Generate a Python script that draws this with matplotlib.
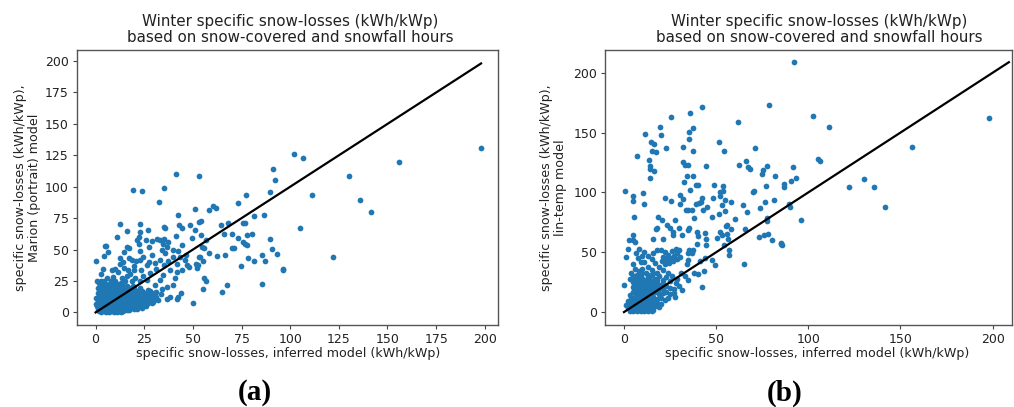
import matplotlib
matplotlib.use("Agg")
import matplotlib.pyplot as plt

TITLE = "Winter specific snow-losses (kWh/kWp)\nbased on snow-covered and snowfall hours"
XLABEL = "specific snow-losses, inferred model (kWh/kWp)"
YLABEL_A = "specific snow-losses (kWh/kWp),\nMarion (portrait) model"
YLABEL_B = "specific snow-losses (kWh/kWp),\nlin-temp model"

# panel (a): outlying points
sparse_a = [
    (198.1, 130.9), (156.1, 120), (102.1, 125.8), (106.4, 123.2), (130, 108.3), (111, 93.5),
    (135.7, 89.3), (141.4, 80), (105, 67.3), (121.9, 44), (96.1, 34.1), (91.3, 114.4),
    (92.2, 105.4), (89.5, 95.6), (77.5, 93.5), (73.2, 87.4), (41.5, 110.2), (53, 108.3),
    (19.4, 97.7), (24, 97), (35.3, 99), (32.4, 88), (51.2, 82.4), (58.3, 81.3), (60.5, 84.5),
    (61.9, 83.4), (42.2, 77.9), (81.6, 77.1), (86.7, 77.9), (77, 71.3), (75.8, 71), (67.9, 71.3),
    (64.6, 69.4), (66, 62.8), (69.9, 62.5), (54, 73.1), (53.3, 71.8), (48.7, 69.4), (51.2, 65.7),
    (54.3, 61.7), (49.4, 59.3), (56.6, 57.5), (42.7, 69.9), (44.2, 67.5), (41.3, 60.9),
    (22.8, 70.5), (12.5, 70.7), (11.1, 60.4), (16.1, 64.4), (22.6, 63.8), (26.7, 65.7), (35, 68.1),
    (35.8, 67), (73.2, 59.6), (75.8, 55.9), (76.8, 54.8), (77.8, 53.8), (78, 61.5), (80.2, 62.5),
    (89.6, 58.8), (90.8, 50.1), (93.2, 46.1), (85.3, 45.8), (86.9, 41.1), (81.6, 40.8), (78.5, 43.4),
    (70.3, 51.4), (71, 50.9), (96.3, 34.2), (74.9, 36.6), (66.5, 45.3), (62.4, 45), (58.1, 46.9),
    (55.4, 41.1), (54.5, 51.7), (55.7, 51.4), (53, 44.2), (53.8, 44.4), (51.4, 38.4), (52.4, 38.1),
    (47.8, 35.8), (51.9, 35), (55.9, 27.5), (56.7, 25.2), (55, 18.3), (67.5, 21.7), (64.8, 15.9),
    (85.5, 22.8), (49.9, 7.2),
]

# panel (a): middle of the cloud
mid_a = [
    (0.3, 41.3), (5.1, 53), (5.6, 52.6), (4.3, 45), (6.3, 48), (3.9, 34.4), (2.6, 30.5), (0.5, 25), (1.7, 23.6),
    (12.5, 43.7), (14.6, 47.7), (16, 52.2), (17.3, 50.9), (8.6, 33.6), (9.9, 34.2), (12.5, 38.4), (14.2, 40.3),
    (17.1, 43.7), (18.5, 41.6), (20.9, 41), (22.8, 48.7), (22.5, 54.8), (21.4, 57.5), (22.3, 60.1), (25.9, 58),
    (27.6, 52.2), (29, 57), (31.4, 58.3), (33.1, 57.5), (35.1, 58.8), (37.4, 56.2), (34.8, 54.3), (36.5, 51.7),
    (33.9, 50), (35.6, 46.9), (39.9, 50), (44.2, 53.5), (42.5, 49), (39.9, 44.2), (43.4, 44.2), (33.1, 41.6),
    (37.4, 41), (35.1, 37.6), (31, 34.2), (41.6, 38.4), (38.2, 33.6), (42, 32.3), (40.8, 27), (44.2, 33.6),
    (34.4, 29.7), (33, 25.7), (36.5, 19.9), (33.9, 19), (38.2, 12.5), (36.8, 11), (42.5, 12.5), (43.7, 15.6),
    (42, 10.3), (39.6, 21.7), (29.6, 8.5), (32, 10.2), (28, 31), (23.6, 33.6), (26.2, 37.6), (22.8, 41.6), (24.5, 44.2),
    (28.8, 45.6), (19.7, 33.6), (16.9, 33.4), (17.7, 30.9), (20.3, 27), (16, 28.9), (18.5, 25.2), (22.8, 25),
    (13.5, 27), (11.3, 32.1), (9.2, 27.8), (6, 27.7), (14.8, 35.5), (20, 37), (24.5, 29), (26.4, 25.8), (30.3, 22),
    (46, 41.5), (47, 38), (30.5, 39.5), (27.5, 40.4), (46.6, 45.8), (28.2, 16.8), (31, 16.2), (33.5, 14.8), (26, 14),
]

# panel (a): dense part near the origin
core_a = [
    (3, 0.2), (5.2, 0.4), (7, 0.1), (9.3, 0.3), (11, 0.5), (13.2, 0.2), (2, 1.2), (4.2, 1), (6.1, 1.3), (8, 0.9),
    (10.2, 1.1), (12, 1.4), (14.3, 1), (16, 1.6), (1.5, 2.2), (3.1, 2), (5, 2.3), (8.2, 1.9), (11, 2.2), (14, 2.1),
    (17.2, 2), (20, 2.4), (1, 3.2), (2.6, 3), (4, 3.3), (6.2, 3.1), (9, 2.9), (12.1, 3.2), (15, 3), (18, 3.3),
    (21.2, 3), (24, 3.4), (0.6, 5.1), (2, 4.9), (3.5, 5.2), (5.1, 5), (7, 4.8), (9.2, 5.1), (11, 5.2), (13, 4.9),
    (15.2, 5.1), (17, 5), (19, 5.2), (21, 4.8), (23.2, 5.1), (26, 5), (0.4, 7.1), (1.5, 6.9), (3, 7.2), (5.2, 7),
    (7, 6.8), (10, 7.1), (12.1, 7), (14, 7.2), (16.2, 6.9), (18, 7), (20, 7.2), (22.1, 6.8), (24, 7), (27, 7.2),
    (29.2, 7.5), (1, 9.1), (2.1, 8.9), (4, 9.2), (6, 9), (8.2, 8.9), (10, 9.1), (13, 9.2), (15.1, 8.8), (17, 9),
    (19.2, 9.1), (21, 9), (23, 9.3), (25.1, 9.5), (27, 9.2), (30, 9.6), (0.2, 11.8), (1.5, 11.1), (3, 10.9), (5.2, 11), (7, 11.2),
    (9, 10.8), (11.1, 11), (13, 11.2), (15, 11), (18.2, 10.9), (20, 11.1), (22, 11.3), (24.1, 11), (26, 11.2), (28, 11.4),
    (31, 12), (2, 13.1), (4, 12.9), (6.1, 13), (8, 13.2), (10, 12.8), (12.2, 13), (14, 13.1), (16, 13), (19, 13.2),
    (21, 13), (23.2, 13.2), (26, 13.1), (29, 13.3), (1.5, 15.2), (3, 14.9), (5.1, 15), (7, 15.2), (9, 14.8), (11.2, 15),
    (13, 15.2), (15, 15), (17.1, 14.9), (20, 15.1), (22, 15.3), (25, 15.2), (27.2, 15.4), (30, 15.8), (2.5, 17.1), (4, 16.9),
    (6, 17), (8.2, 17.2), (10, 16.9), (12, 17), (14.1, 17.2), (16, 17), (18, 17.1), (21, 17.3), (24, 17.4), (27, 17.8),
    (1.5, 19.2), (4, 18.9), (5.5, 19), (7.5, 19.2), (9, 18.9), (11, 19), (13.1, 19.1), (15, 19), (17, 19.2), (20, 19.4),
    (23, 19.6), (2.5, 21.1), (4.5, 21), (6, 20.8), (8, 21.1), (10.1, 21), (12, 21.2), (14, 20.9), (16, 21), (19, 21.3),
    (3, 23.1), (5, 22.9), (7, 23), (9.1, 23.2), (11, 23), (13, 23.1), (3, 25.2), (4.5, 25), (8, 25), (10, 25.2), (15, 24.8),
    (4, 6), (6, 6), (8, 6), (10, 6), (12, 6), (14, 6), (16, 6), (18, 6), (20, 6), (22, 6), (6, 10), (8, 10), (12, 10), (14, 10), (16, 10),
    (18, 10), (22, 10), (5, 14), (7, 14), (9, 14), (11, 14), (13, 14), (15, 14), (18, 14), (20, 14), (23, 14), (6, 18), (8, 18), (10, 18), (12, 18), (14, 18), (16, 18),
    (3, 4), (5, 4), (7, 4), (9, 4), (11, 4), (13, 4), (15, 4), (17, 4), (19, 4), (3, 8), (5, 8), (7, 8), (9, 8), (11, 8), (13, 8), (15, 8), (17, 8), (19, 8),
    (21, 8), (23, 8), (25, 8), (3, 12), (5, 12), (7, 12), (9, 12), (11, 12), (13, 12), (15, 12), (17, 12), (19, 12), (21, 12), (23, 12), (25, 12), (27, 12),
    (3, 16), (5, 16), (7, 16), (9, 16), (11, 16), (13, 16), (15, 16), (17, 16), (19, 16), (21, 16), (23, 16),
]

# panel (b): outlying and scattered points
sparse_b = [
    (92.2, 208.8), (102.4, 163.9), (111.2, 154.4), (198.2, 162.5), (156.1, 138.2), (105.1, 128.2), (106.5, 126),
    (91.5, 121.2), (93.5, 111.8), (90.8, 109.5), (86.8, 107.3), (87, 104.2), (121.9, 104.2), (130.2, 111.2),
    (135.8, 104.8), (141.4, 87.5), (89.3, 90), (89.9, 88.1), (96.2, 76.9), (85.2, 57.1), (85.7, 56.3),
    (78.5, 172.8), (61.8, 158.9), (42.3, 171.1), (35.6, 166.1), (25.7, 163.3), (19.5, 154.4), (11.2, 148.8),
    (19.9, 147.7), (37.3, 153.8), (35.3, 150.8), (35.3, 144.6), (14.8, 142.4), (16.1, 140.5), (15.4, 134.9),
    (17.2, 133.5), (22.8, 137.4), (32, 138.2), (37.6, 134.9), (51.4, 141.9), (54.4, 134.3), (71.2, 136.8),
    (6.9, 130.7), (13.7, 126.8), (14.1, 122.4), (14.1, 119.6), (16.1, 118.2), (13.9, 112), (32.2, 125.4),
    (33.1, 123.2), (34.9, 123.2), (44.3, 122), (62.4, 122.9), (66.4, 126.3), (67.5, 121), (68.2, 119.6),
    (77.6, 121.8), (75.6, 118.7), (74.9, 115.7), (81.7, 114), (34.2, 113.7), (37.3, 113.7), (32.4, 108.4),
    (38.9, 106.5), (40.1, 106.5), (36, 102), (49, 105.9), (53.7, 105.4), (53.7, 100.9), (52.3, 100.3),
    (70.5, 101.4), (70, 100.6), (76.9, 105.6), (0.4, 101.4), (10.3, 99.8), (4.9, 97.3), (4.7, 92.5), (10.7, 90),
    (5.4, 79.4), (22.4, 95), (25.3, 93), (30.4, 97.5), (32, 94.8), (30.4, 90.3), (42.5, 95), (42, 92), (39.2, 90.3),
    (40.7, 91.1), (48.1, 95), (52.3, 96.7), (55, 93.6), (58, 91.7), (53, 89.2), (64.6, 89.2), (66.5, 83.9),
    (76.5, 92), (73.6, 87.2), (81.4, 93.6), (33.6, 85), (34.9, 85.6), (37.1, 85), (43, 85.6), (44.8, 87.5),
    (38.2, 78.3), (47.7, 79.4), (51.4, 81.9), (54.6, 84.2), (18.4, 79.7), (20.8, 77.2), (27.7, 76.9), (23.1, 73),
    (18.1, 70.2), (17.2, 69.4), (25, 70.2), (26.4, 66.6), (29.7, 70.5), (35.4, 70.2), (34.9, 68.3), (55.7, 73),
    (55.3, 71.6), (60.4, 77.8), (58.2, 69.7), (65.5, 69.4), (77.4, 78.6), (77.4, 75.8), (75.9, 64.7), (77.9, 64.9),
    (73.2, 62.7), (80.3, 60.2), (85.2, 57.4), (52.1, 66.6), (53, 64.7), (50.5, 61.9), (55.9, 65.2), (56.6, 61.3),
    (44.1, 66), (44.3, 61.3), (39.6, 66.6), (40.3, 63.3), (31.6, 64.7), (26.4, 64.5), (21.3, 61), (16, 61), (5, 60.5),
    (2.7, 60.5), (5, 64), (6.1, 58.5), (2.4, 52.7), (1.3, 46), (0, 22.3), (39.8, 57), (44.5, 55.7), (37.3, 51.6),
    (35.4, 52), (54.2, 55.7), (57, 52), (57, 47.9), (64.9, 40.1), (49.4, 39.6), (47.6, 43.8), (42.1, 21.2), (34.5, 27),
    (31.3, 18.7), (27.5, 12.7), (27, 16), (43.6, 34.6), (40.3, 31.8), (38.2, 32.6), (41.2, 42.4), (43.9, 45.2),
    (34.9, 43.6), (34.4, 40.3), (36.7, 49), (34.5, 49),
]

# panel (b): dense part near the origin
core_b = [
    (20, 52), (22, 50), (24, 48), (26, 51), (28, 53), (21, 46), (23, 44), (25, 45.5), (27, 47), (29, 49), (30, 52),
    (20.5, 43), (24.5, 41), (26.5, 42.5), (28.5, 44), (30.5, 46), (22, 40), (19, 38), (17, 41), (15, 44), (13, 47),
    (11, 50), (8, 53), (10, 47), (6.5, 49), (7.5, 45), (9, 42), (5, 40), (11, 42), (13, 38), (16, 49), (18, 52),
    (6, 36), (4, 33), (8, 34), (10, 36), (12, 33), (15, 35), (18, 33), (21, 35), (24, 33), (26, 30), (29, 28),
    (31, 33), (33, 30), (3, 28), (5, 30), (7, 28), (9, 30), (11, 27), (13, 29), (15, 31), (17, 28), (19, 30), (21, 27),
    (23, 29), (25, 26), (28, 24), (30, 22), (5, 25), (7, 24), (9, 26), (11, 23), (13, 25), (15, 23), (17, 25), (19, 23),
    (21, 24), (23, 22), (25, 20), (27, 19), (5, 21), (7, 20), (9, 22), (11, 19), (13, 21), (15, 19), (17, 21), (19, 19),
    (21, 20), (23, 17), (25, 15), (5, 17), (7, 16), (9, 18), (11, 15), (13, 17), (15, 15), (17, 17), (19, 15), (21, 16),
    (24, 12), (3, 14), (4, 11), (6, 13), (8, 14), (10, 12), (12, 13), (14, 11), (16, 13), (18, 11), (20, 12), (22, 10),
    (2, 9), (4, 8), (6, 9), (8, 10), (10, 8), (12, 9), (14, 8), (16, 9), (18, 8), (20, 7), (1, 6), (3, 5), (5, 6),
    (7, 5), (9, 6), (11, 5), (13, 6), (15, 5), (17, 5), (19, 4), (2, 3), (4, 2), (6, 3), (8, 2), (10, 3), (12, 2), (14, 3),
    (16, 2), (3, 0.5), (5, 0.5), (7, 0.5), (9, 0.5), (11, 1), (13, 1), (15, 1),
    (6, 23), (8, 22), (10, 24), (12, 21), (14, 23), (16, 21), (18, 24), (20, 22), (6, 19), (8, 18), (10, 20), (12, 18), (14, 20),
    (16, 18), (18, 20), (6, 27), (8, 26), (10, 28), (12, 26), (14, 27), (16, 26), (18, 27), (7, 12), (9, 11), (11, 10), (13, 12),
    (15, 10), (17, 9), (6, 7), (8, 6), (10, 7), (12, 7), (14, 7), (7, 31), (9, 33), (13, 31), (16, 33),
]

# 1:1 line ends
line_a = [0, 198.1]
line_b = [0, 208.8]

xticks_a = [0, 25, 50, 75, 100, 125, 150, 175, 200]
yticks_a = [0, 25, 50, 75, 100, 125, 150, 175, 200]
xticks_b = [0, 50, 100, 150, 200]
yticks_b = [0, 50, 100, 150, 200]

W, H = 1014, 407
fig = plt.figure(figsize=(W / 100, H / 100), dpi=100)


def panel(rect, groups, line, xticks, yticks, xlim, ylim, ylabel, ypad, tag, tag_x, title_x, xlabel_x):
    l, t, r, b = rect
    ax = fig.add_axes([l / W, 1 - b / H, (r - l) / W, (b - t) / H])
    for pts in groups:
        xs, ys = zip(*pts)
        ax.scatter(xs, ys, s=17, color="#1f77b4", linewidths=0)
    ax.plot(line, line, color="k", lw=1.6)
    ax.set_xlim(*xlim)
    ax.set_ylim(*ylim)
    ax.set_xticks(xticks)
    ax.set_yticks(yticks)
    ax.tick_params(labelsize=9, length=3, width=0.8, color="#444444", labelcolor="#222222", pad=2.5)
    for s in ax.spines.values():
        s.set_color("#555555")
        s.set_linewidth(1.0)
    ax.set_title(TITLE, fontsize=10.9, color="#222222", pad=6, linespacing=1.05, x=title_x)
    ax.set_xlabel(XLABEL, fontsize=9.1, color="#222222", labelpad=1, x=xlabel_x)
    ax.set_ylabel(ylabel, fontsize=9.1, color="#222222", labelpad=ypad, linespacing=1.05)
    fig.text(tag_x / W, 1 - 393 / H, tag, fontsize=21, fontweight="bold",
             family="Liberation Serif", ha="center", va="center")
    return ax


panel((76.5, 50, 498, 325), [sparse_a, mid_a, core_a], line_a, xticks_a, yticks_a,
      (-9.8, 206.8), (-10, 208.8), YLABEL_A, 3, "(a)", 255, 0.508, 0.503)
panel((605, 50, 1012, 325), [sparse_b, core_b], line_b, xticks_b, yticks_b,
      (-10.3, 210.5), (-10.8, 219), YLABEL_B, 5, "(b)", 785, 0.527, 0.52)

fig.savefig("out.png", dpi=100)
